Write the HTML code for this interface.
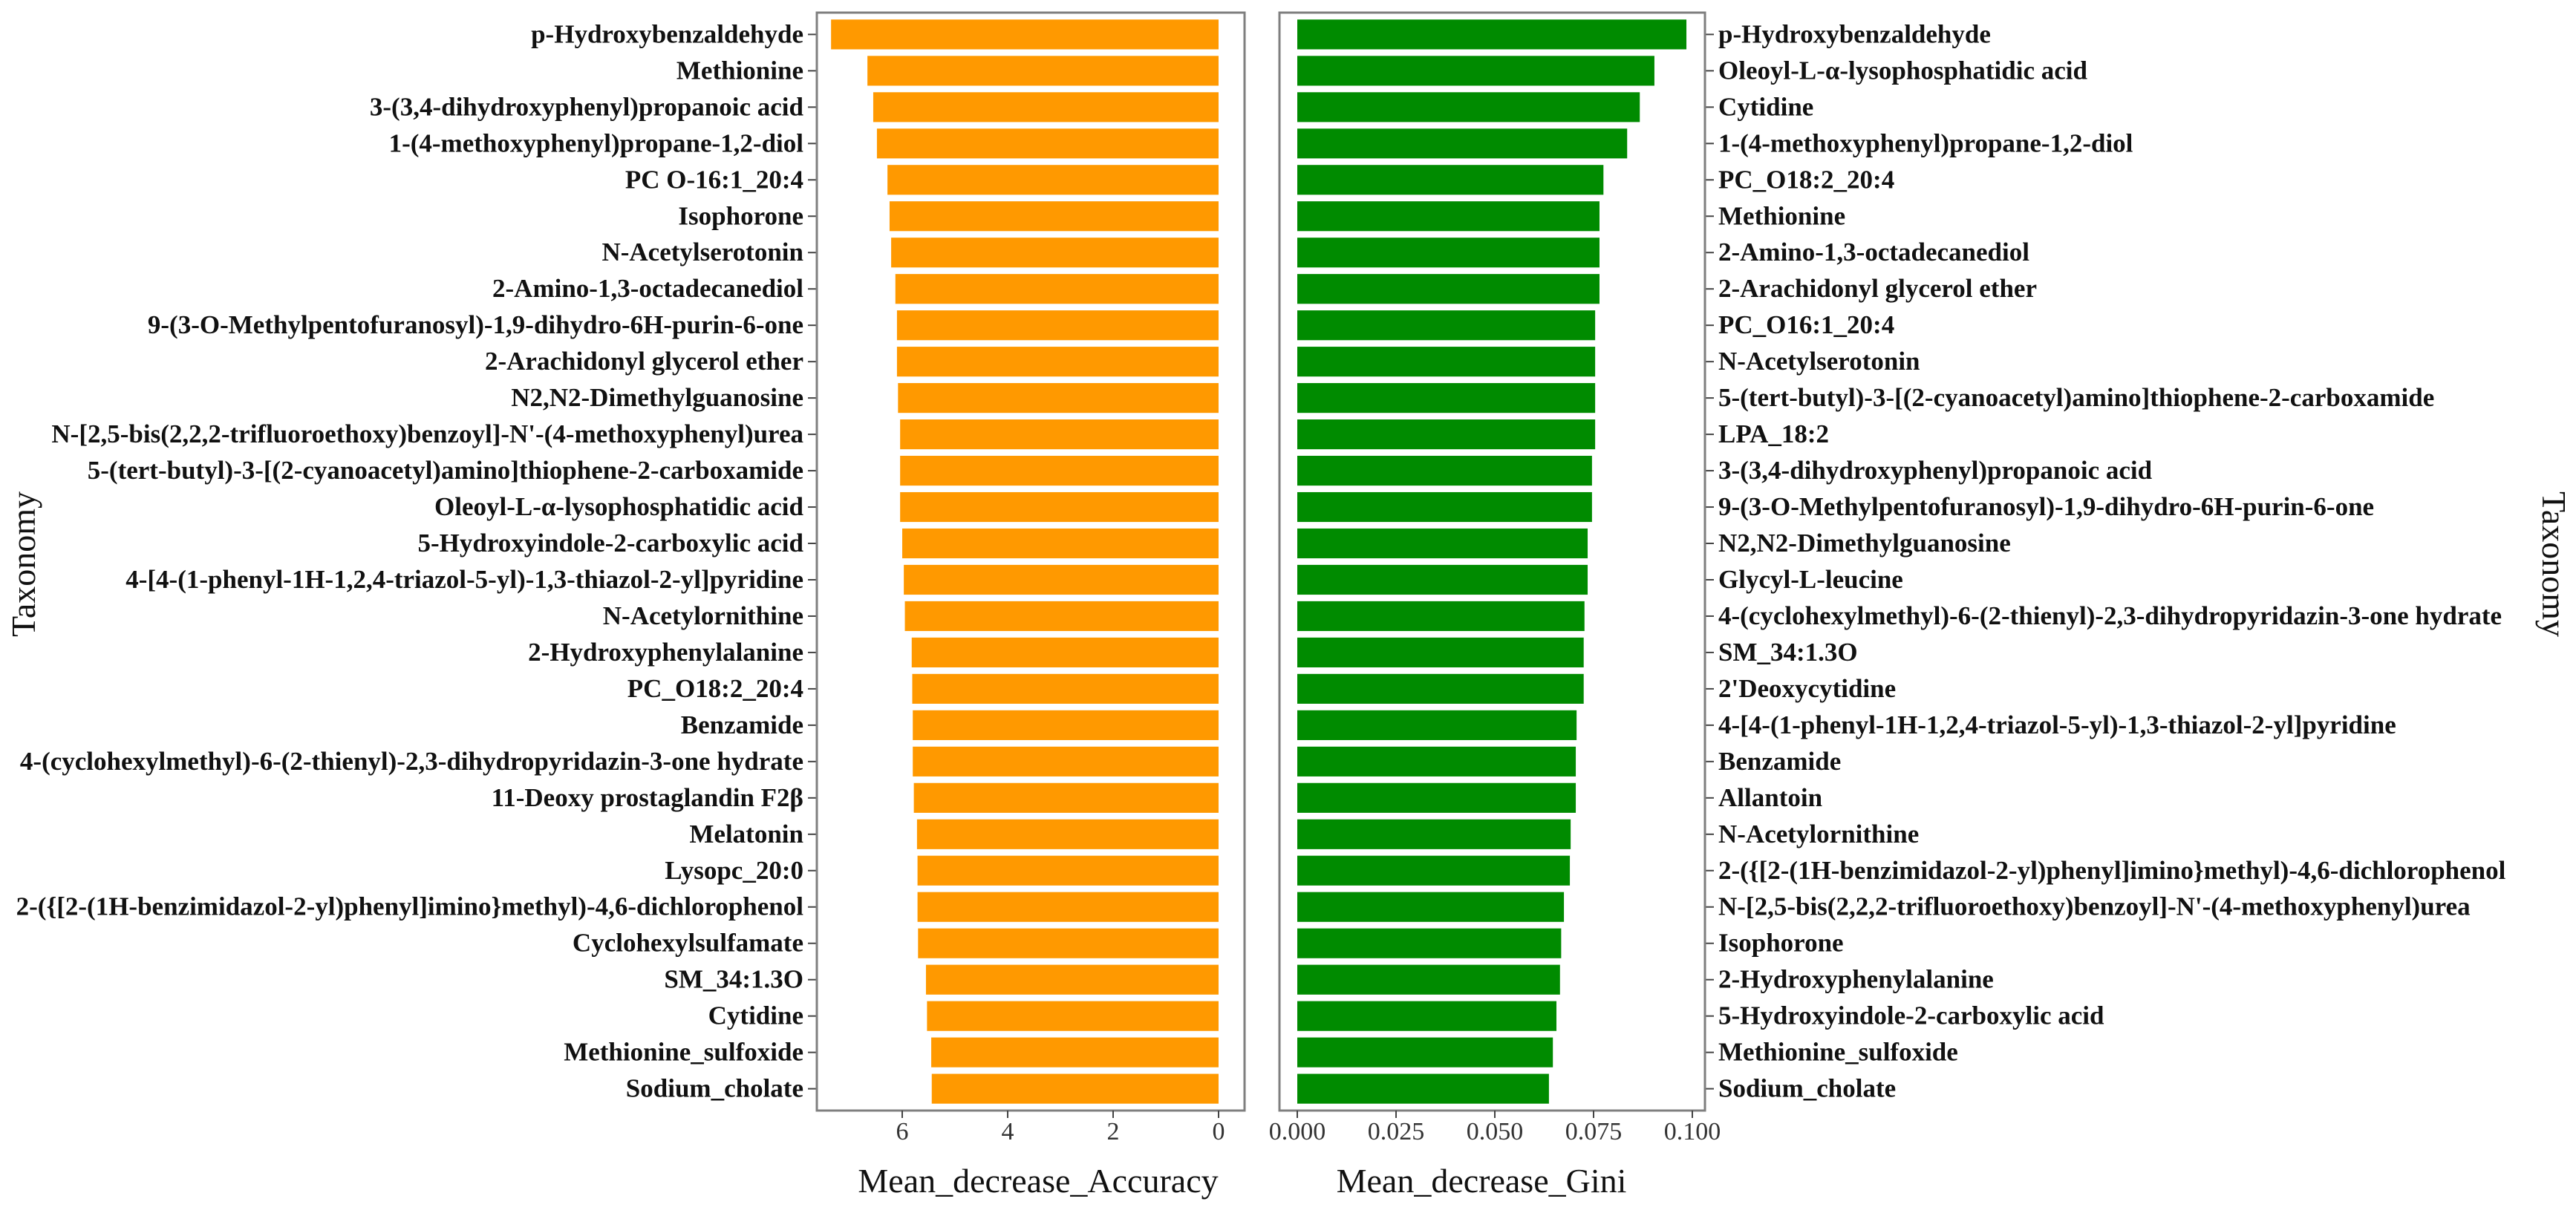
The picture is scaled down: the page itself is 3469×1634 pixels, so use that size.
<!DOCTYPE html>
<html><head><meta charset="utf-8"><style>
html,body{margin:0;padding:0;background:#fff;}
svg{display:block;font-family:"Liberation Serif",serif;}
</style></head><body>
<svg id="chart" width="3469" height="1634" viewBox="0 0 3469 1634" xmlns="http://www.w3.org/2000/svg"></svg>
<script>
const accCategories = ["p-Hydroxybenzaldehyde","Methionine","3-(3,4-dihydroxyphenyl)propanoic acid","1-(4-methoxyphenyl)propane-1,2-diol","PC O-16:1_20:4","Isophorone","N-Acetylserotonin","2-Amino-1,3-octadecanediol","9-(3-O-Methylpentofuranosyl)-1,9-dihydro-6H-purin-6-one","2-Arachidonyl glycerol ether","N2,N2-Dimethylguanosine","N-[2,5-bis(2,2,2-trifluoroethoxy)benzoyl]-N'-(4-methoxyphenyl)urea","5-(tert-butyl)-3-[(2-cyanoacetyl)amino]thiophene-2-carboxamide","Oleoyl-L-\u03b1-lysophosphatidic acid","5-Hydroxyindole-2-carboxylic acid","4-[4-(1-phenyl-1H-1,2,4-triazol-5-yl)-1,3-thiazol-2-yl]pyridine","N-Acetylornithine","2-Hydroxyphenylalanine","PC_O18:2_20:4","Benzamide","4-(cyclohexylmethyl)-6-(2-thienyl)-2,3-dihydropyridazin-3-one hydrate","11-Deoxy prostaglandin F2\u03b2","Melatonin","Lysopc_20:0","2-({[2-(1H-benzimidazol-2-yl)phenyl]imino}methyl)-4,6-dichlorophenol","Cyclohexylsulfamate","SM_34:1.3O","Cytidine","Methionine_sulfoxide","Sodium_cholate"];
const accValues = [7.35,6.66,6.55,6.48,6.28,6.24,6.21,6.13,6.1,6.1,6.08,6.04,6.04,6.04,6.0,5.97,5.95,5.82,5.81,5.8,5.8,5.78,5.72,5.71,5.71,5.7,5.55,5.53,5.45,5.44];
const accTicks = [6,4,2,0];
const giniCategories = ["p-Hydroxybenzaldehyde","Oleoyl-L-\u03b1-lysophosphatidic acid","Cytidine","1-(4-methoxyphenyl)propane-1,2-diol","PC_O18:2_20:4","Methionine","2-Amino-1,3-octadecanediol","2-Arachidonyl glycerol ether","PC_O16:1_20:4","N-Acetylserotonin","5-(tert-butyl)-3-[(2-cyanoacetyl)amino]thiophene-2-carboxamide","LPA_18:2","3-(3,4-dihydroxyphenyl)propanoic acid","9-(3-O-Methylpentofuranosyl)-1,9-dihydro-6H-purin-6-one","N2,N2-Dimethylguanosine","Glycyl-L-leucine","4-(cyclohexylmethyl)-6-(2-thienyl)-2,3-dihydropyridazin-3-one hydrate","SM_34:1.3O","2'Deoxycytidine","4-[4-(1-phenyl-1H-1,2,4-triazol-5-yl)-1,3-thiazol-2-yl]pyridine","Benzamide","Allantoin","N-Acetylornithine","2-({[2-(1H-benzimidazol-2-yl)phenyl]imino}methyl)-4,6-dichlorophenol","N-[2,5-bis(2,2,2-trifluoroethoxy)benzoyl]-N'-(4-methoxyphenyl)urea","Isophorone","2-Hydroxyphenylalanine","5-Hydroxyindole-2-carboxylic acid","Methionine_sulfoxide","Sodium_cholate"];
const giniValues = [0.0985,0.0904,0.0867,0.0835,0.0775,0.0765,0.0765,0.0765,0.0754,0.0754,0.0754,0.0754,0.0746,0.0746,0.0735,0.0735,0.0727,0.0725,0.0725,0.0707,0.0705,0.0705,0.0692,0.069,0.0675,0.0668,0.0665,0.0656,0.0647,0.0637];
const giniTicks = [0,0.025,0.05,0.075,0.1];
const giniTickLabels = ["0.000","0.025","0.050","0.075","0.100"];

const svg = document.getElementById('chart');
const NS = 'http://www.w3.org/2000/svg';
function mk(tag, attrs, parent){const e=document.createElementNS(NS,tag);for(const k in attrs)e.setAttribute(k,attrs[k]);(parent||svg).appendChild(e);return e;}
const top0=17, bottom0=1496, n=30;
const pitch=(bottom0-top0)/(n+0.2);
function yPos(i){return top0+pitch*(0.6+i);}
const barH=pitch*0.82;
function xAcc(v){return 1641 - v*71;}
function xGini(v){return 1747 + v*5320;}

const lp = mk('g',{});


accCategories.forEach((c,i)=>{
  const y=yPos(i);
  const x0=xAcc(accValues[i]);
  const r=mk('rect',{x:x0,y:y-barH/2,width:xAcc(0)-x0,height:barH,fill:'#FF9900'},lp);
  
  
  mk('line',{x1:1088,x2:1100,y1:y,y2:y,stroke:'#444','stroke-width':2},lp);
  const t=mk('text',{x:1082,y:y+11,'text-anchor':'end','font-size':35,'font-weight':'bold',fill:'#111'},lp);
  t.textContent=c;
  
  
});
const lf=mk('rect',{x:1100,y:top0,width:576,height:bottom0-top0,fill:'none',stroke:'#7f7f7f','stroke-width':3},lp);


accTicks.forEach(v=>{
  const x=xAcc(v);
  mk('line',{x1:x,x2:x,y1:bottom0,y2:bottom0+10,stroke:'#444','stroke-width':2},lp);
  const t=mk('text',{x:x,y:1535,'text-anchor':'middle','font-size':34,fill:'#333'},lp);
  t.textContent=String(v);
  
  
});
const lt=mk('text',{x:1398,y:1606,'text-anchor':'middle','font-size':46,fill:'#111'});
lt.textContent='Mean_decrease_Accuracy';



const rp = mk('g',{});


giniCategories.forEach((c,i)=>{
  const y=yPos(i);
  const r=mk('rect',{x:xGini(0),y:y-barH/2,width:xGini(giniValues[i])-xGini(0),height:barH,fill:'#008B00'},rp);
  
  
  mk('line',{x1:2296,x2:2308,y1:y,y2:y,stroke:'#444','stroke-width':2},rp);
  const t=mk('text',{x:2314,y:y+11,'text-anchor':'start','font-size':35,'font-weight':'bold',fill:'#111'},rp);
  t.textContent=c;
  
  
});
const rf=mk('rect',{x:1723,y:top0,width:573,height:bottom0-top0,fill:'none',stroke:'#7f7f7f','stroke-width':3},rp);


giniTicks.forEach((v,i)=>{
  const x=xGini(v);
  mk('line',{x1:x,x2:x,y1:bottom0,y2:bottom0+10,stroke:'#444','stroke-width':2},rp);
  const t=mk('text',{x:x,y:1535,'text-anchor':'middle','font-size':34,fill:'#333'},rp);
  t.textContent=giniTickLabels[i];
  
  
});
const rt=mk('text',{x:1995,y:1606,'text-anchor':'middle','font-size':46,fill:'#111'});
rt.textContent='Mean_decrease_Gini';



const ly=mk('text',{x:0,y:0,'text-anchor':'middle','font-size':46,fill:'#111',transform:'translate(47,760) rotate(-90)'});
ly.textContent='Taxonomy';


const ry=mk('text',{x:0,y:0,'text-anchor':'middle','font-size':46,fill:'#111',transform:'translate(3424,760) rotate(90)'});
ry.textContent='Taxonomy';


</script>
</body></html>
